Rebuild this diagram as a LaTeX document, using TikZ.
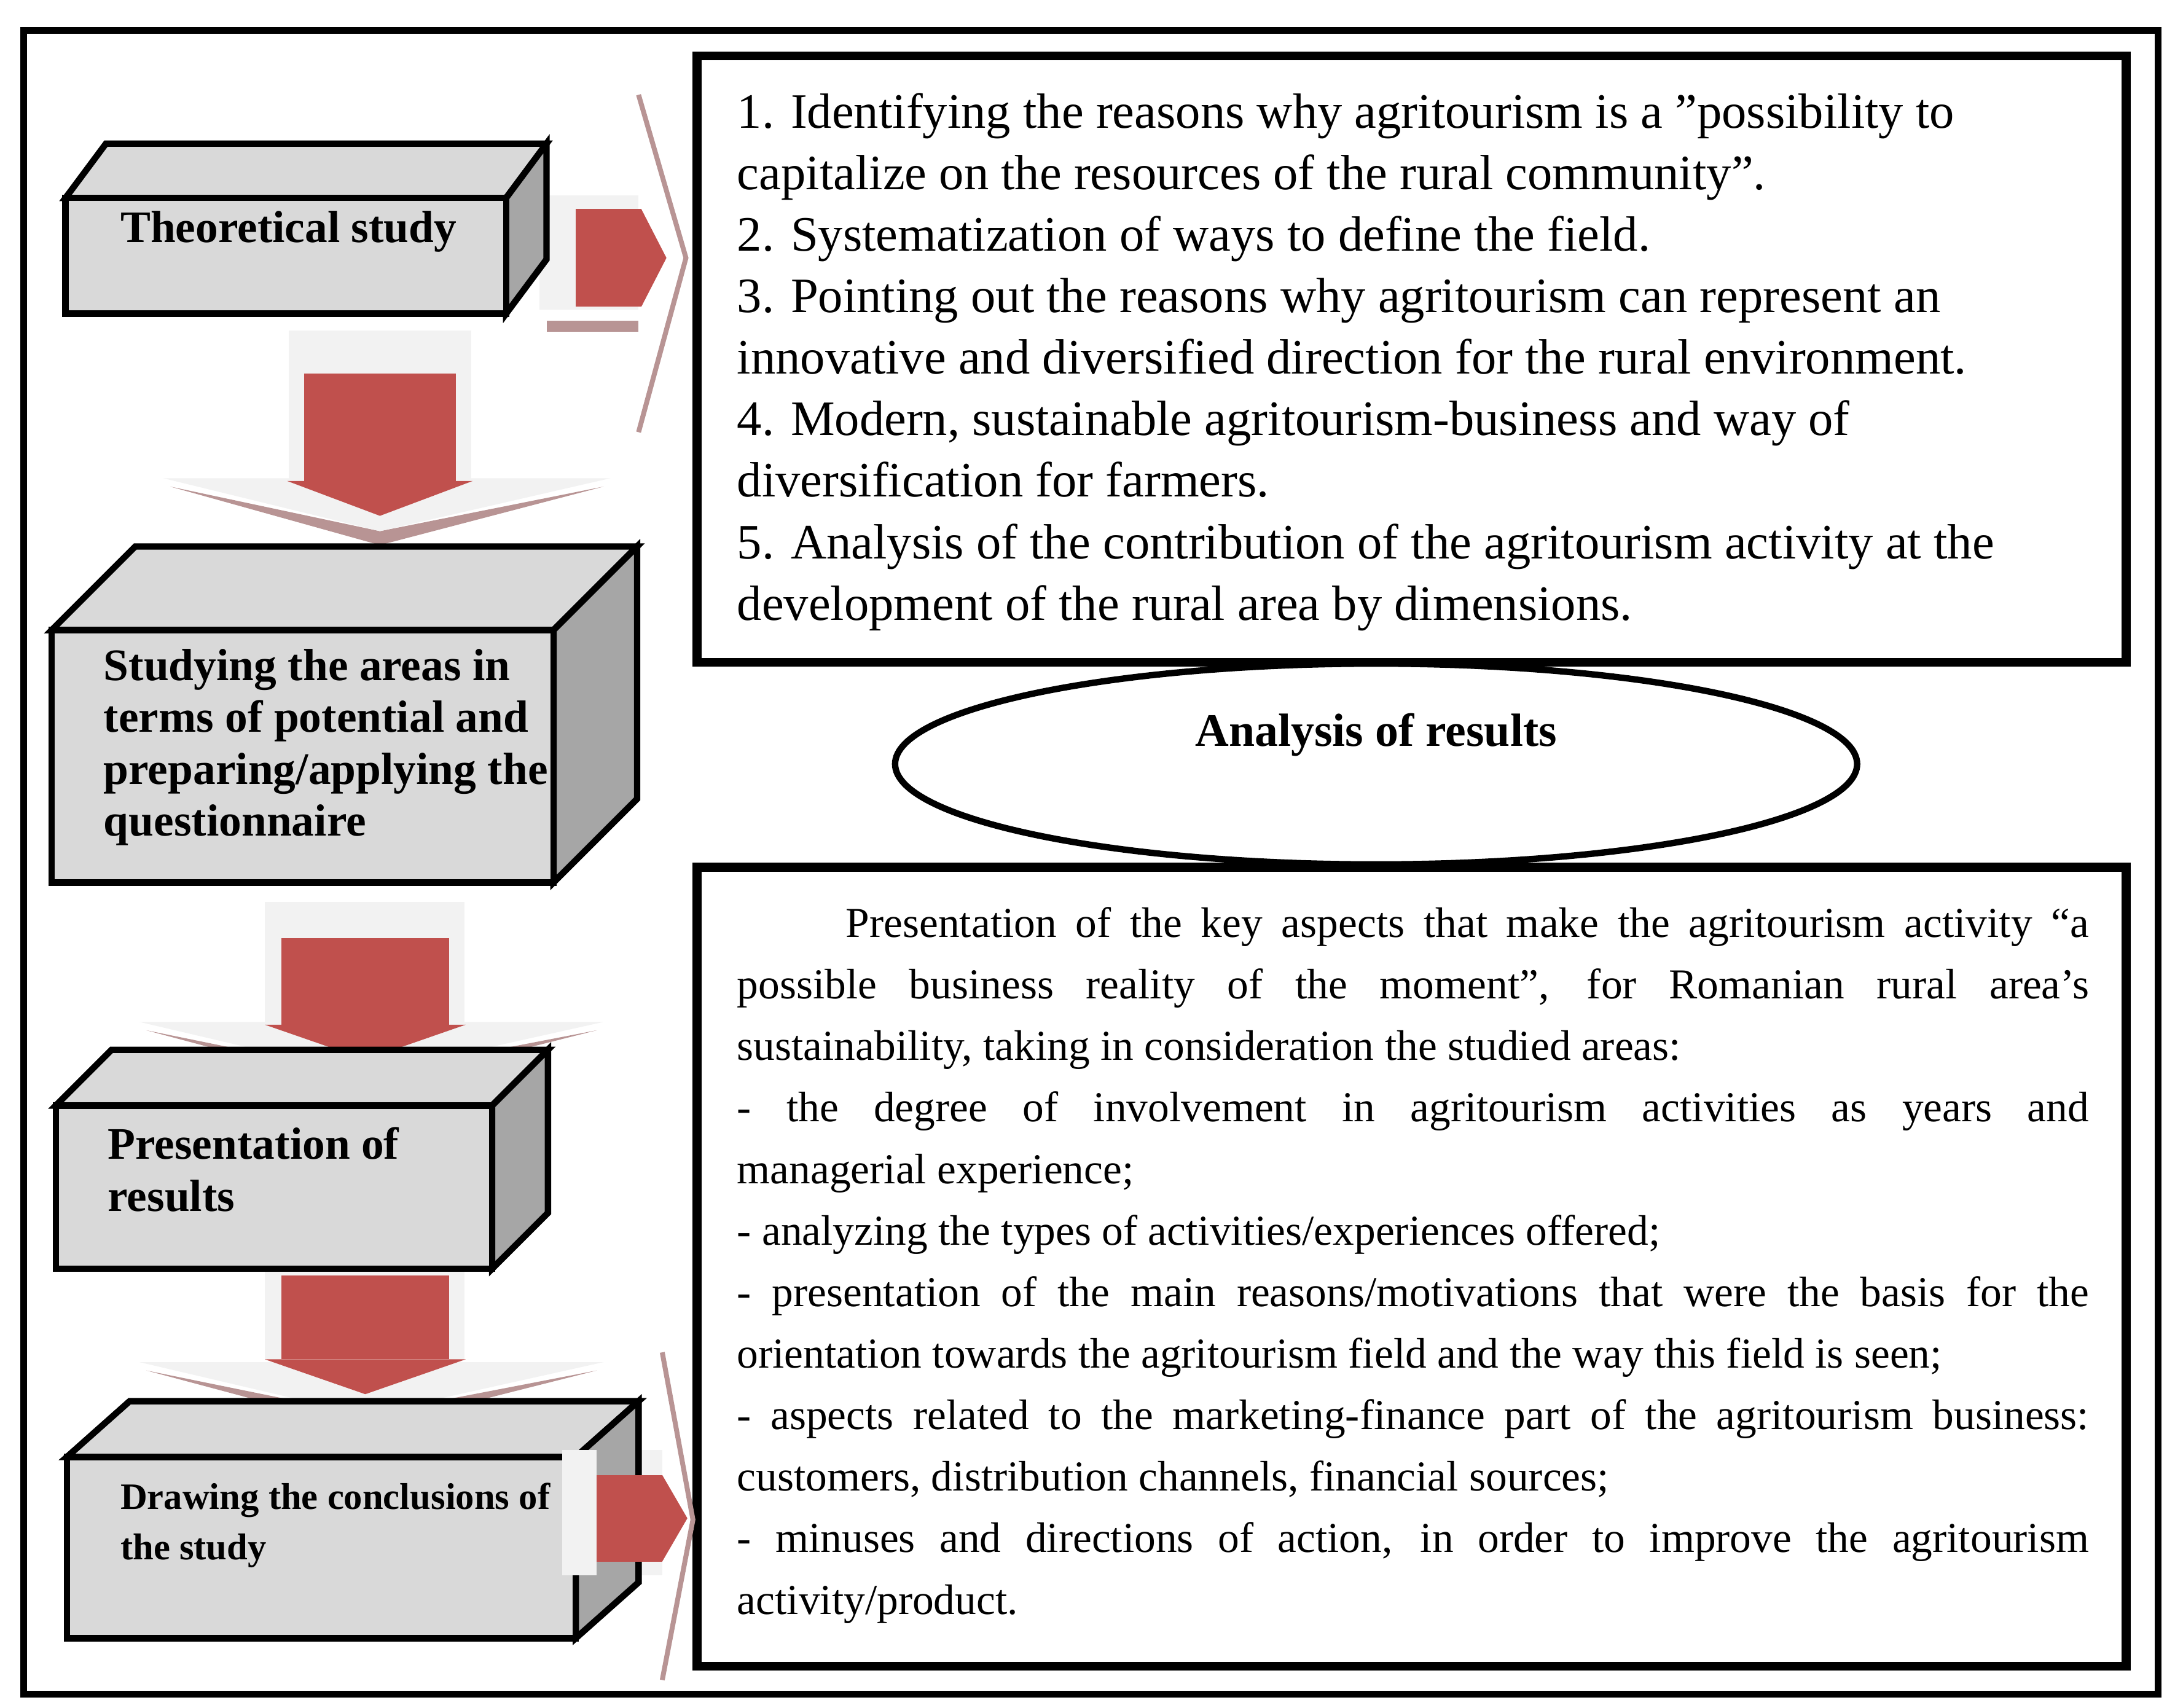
\documentclass[tikz,border=0pt]{standalone}
\usepackage{fontspec}
\setmainfont{Liberation Serif}
\usetikzlibrary{shapes.geometric}
\definecolor{ared}{HTML}{C0504D}
\definecolor{bfront}{HTML}{D9D9D9}
\definecolor{bside}{HTML}{A6A6A6}
\definecolor{abg}{HTML}{F2F2F2}
\definecolor{ash}{HTML}{B89494}
\tikzset{
 face/.style={draw=black,line width=1.3pt,line join=miter},
 lbl/.style={font=\bfseries\fontsize{9.2}{10.6}\selectfont,align=left,anchor=west},
 body/.style={anchor=north west,inner sep=0pt},
 frame/.style={draw=black,line width=1.4pt}
}
\newcommand{\cube}[6]{% x1 y1(bottom) x2 y2(top) dx dy
 \filldraw[face,fill=bfront] (#1+#5,#4-#6) -- (#3+#5,#4-#6) -- (#3,#4) -- (#1,#4) -- cycle;
 \filldraw[face,fill=bside] (#3,#4) -- (#3+#5,#4-#6) -- (#3+#5,#2-#6) -- (#3,#2) -- cycle;
 \filldraw[face,fill=bfront] (#1,#2) rectangle (#3,#4);}
\newcommand{\darrow}[8]{%
 \fill[abg] (#1,#2) rectangle (#3,#7);
 \fill[ash] (#1-85,#8+6) -- ({(#4+#6)/2},#8+48) -- (#3+95,#8+6) -- ({(#4+#6)/2},#8+38) -- cycle;
 \fill[abg] (#1-90,#8) -- ({(#4+#6)/2},#8+38) -- (#3+100,#8) -- cycle;
 \fill[ared] (#4,#5) rectangle (#6,#7);
 \fill[ared] (#4-12,#7) -- (#6+12,#7) -- ({(#4+#6)/2},#7+25) -- cycle;}
\begin{document}
\begin{tikzpicture}[x=0.01cm,y=-0.01cm]
\useasboundingbox (0,0) rectangle (1560,1225);
\draw[frame] (17,22) rectangle (1548,1215);
\draw[frame,line width=1.8pt] (500,40) rectangle (1525,475);
\draw[frame,line width=1.8pt] (500,622) rectangle (1525,1195);
\draw[line width=1.3pt] (987,548) ellipse [x radius=345,y radius=72];
\node[font=\bfseries\fontsize{9.5}{12}\selectfont] (ar) at (987,527) {Analysis of results};
\node[body,font=\fontsize{10.1}{12.55}\selectfont,align=left] (t1) at (528,66) {1. Identifying the reasons why agritourism is a ”possibility to\\capitalize on the resources of the rural community”.\\
2. Systematization of ways to define the field.\\
3. Pointing out the reasons why agritourism can represent an\\innovative and diversified direction for the rural environment.\\
4. Modern, sustainable agritourism-business and way of\\diversification for farmers.\\
5. Analysis of the contribution of the agritourism activity at the\\development of the rural area by dimensions.};
\node[body,font=\fontsize{8.7}{12.55}\selectfont,text width=9.69cm,align=justify] (t2) at (528,650) {\hyphenpenalty=10000\hspace*{0.78cm}Presentation of the key aspects that make the agritourism activity “a\linebreak possible business reality of the moment”, for Romanian rural area’s\linebreak sustainability, taking in consideration the studied areas:\\
- the degree of involvement in agritourism activities as years and\linebreak managerial experience;\\
- analyzing the types of activities/experiences offered;\\
- presentation of the main reasons/motivations that were the basis for the\linebreak orientation towards the agritourism field and the way this field is seen;\\
- aspects related to the marketing-finance part of the agritourism business:\linebreak customers, distribution channels, financial sources;\\
- minuses and directions of action, in order to improve the agritourism\linebreak activity/product.};
% right arrow 1
\draw[ash,line width=1pt] (458,68) -- (492,185) -- (458,310);
\fill[abg] (387,140) rectangle (458,222);
\fill[ash] (392,230) rectangle (458,238);
\fill[ared] (413,150) rectangle (460,220);
\fill[ared] (460,150) -- (478,185) -- (460,220) -- cycle;
% right arrow 2
\draw[ash,line width=1pt] (475,970) -- (497,1090) -- (475,1205);
\fill[abg] (403,1040) rectangle (475,1130);
\fill[ared] (428,1058) rectangle (475,1120);
\fill[ared] (475,1058) -- (493,1089) -- (475,1120) -- cycle;
% down arrows
\darrow{207}{237}{338}{218}{268}{327}{345}{343}
\darrow{190}{647}{333}{202}{673}{322}{735}{733}
\darrow{190}{885}{333}{202}{915}{322}{975}{977}
% boxes
\cube{47}{225}{363}{142}{29}{39}
\node[lbl] (b1) at (74,166) {Theoretical study};
\cube{37}{633}{397}{452}{60}{60}
\node[lbl] (b2) at (62,536) {Studying the areas in\\terms of potential and\\preparing/applying the\\questionnaire};
\cube{40}{910}{353}{793}{40}{40}
\node[lbl] (b3) at (65,839) {Presentation of\\results};
\cube{48}{1175}{413}{1045}{45}{40}
\node[lbl,font=\bfseries\fontsize{7.6}{10.3}\selectfont] (b4) at (74,1094) {Drawing the conclusions of\\the study};
% redraw right arrow 2 over box 4 side
\fill[abg] (403,1040) rectangle (428,1130);
\fill[ared] (428,1058) rectangle (475,1120);
\end{tikzpicture}
\end{document}
